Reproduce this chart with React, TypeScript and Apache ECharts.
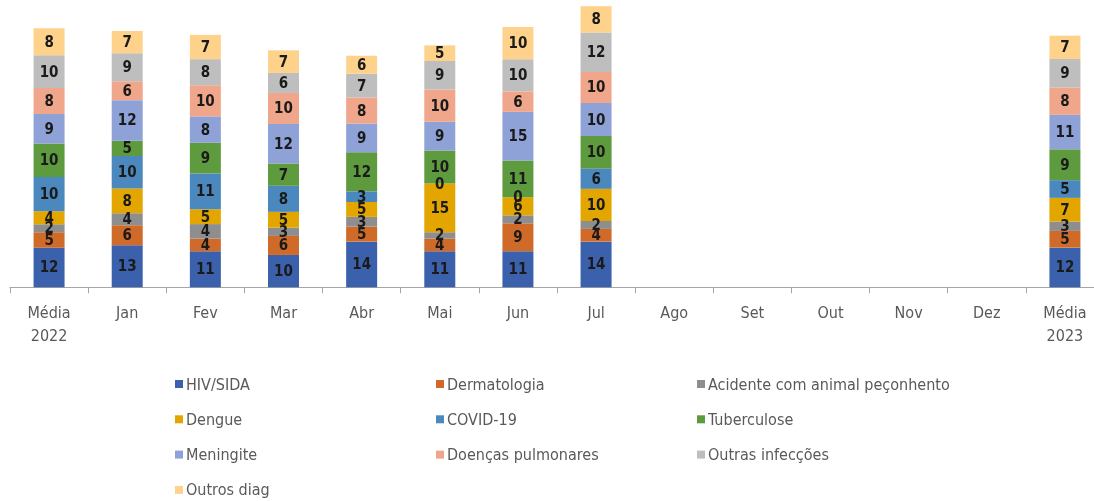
import React, { useEffect, useRef } from "react";
import * as echarts from "echarts";

const categories = ["Média\n2022", "Jan", "Fev", "Mar", "Abr", "Mai", "Jun", "Jul", "Ago", "Set", "Out", "Nov", "Dez", "Média\n2023"];

const seriesNames = [
  "HIV/SIDA",
  "Dermatologia",
  "Acidente com animal peçonhento",
  "Dengue",
  "COVID-19",
  "Tuberculose",
  "Meningite",
  "Doenças pulmonares",
  "Outras infecções",
  "Outros diag",
];

// values; labels show them rounded
const hiv = [12.15, 12.88, 11.04, 9.91, 13.99, 11.04, 11.04, 13.99, null, null, null, null, null, 12.15];
const dermatologia = [4.72, 6.13, 3.87, 5.83, 4.6, 3.87, 8.55, 3.9, null, null, null, null, null, 5.12];
const acidente = [2.45, 3.68, 4.45, 2.55, 2.98, 1.96, 2.45, 2.45, null, null, null, null, null, 2.85];
const dengue = [3.99, 7.55, 4.55, 4.82, 4.55, 14.91, 5.55, 9.82, null, null, null, null, null, 7.27];
const covid = [10.45, 9.94, 10.95, 7.98, 3.28, 0, 0, 6.26, null, null, null, null, null, 5.43];
const tuberculose = [10.25, 4.69, 9.42, 6.84, 11.96, 10.12, 11.26, 9.91, null, null, null, null, null, 9.45];
const meningite = [9.08, 12.45, 8.07, 12.09, 8.8, 8.8, 14.91, 10.12, null, null, null, null, null, 10.55];
const doencas = [7.98, 5.83, 9.55, 9.51, 7.98, 9.91, 6.26, 9.51, null, null, null, null, null, 8.4];
const outrasInfeccoes = [10.03, 8.55, 7.98, 6.13, 7.24, 8.71, 9.82, 12.06, null, null, null, null, null, 8.71];
const outrosDiag = [8.28, 6.84, 7.45, 6.93, 5.55, 4.79, 9.91, 8.1, null, null, null, null, null, 7.15];

const seriesData = [hiv, dermatologia, acidente, dengue, covid, tuberculose, meningite, doencas, outrasInfeccoes, outrosDiag];

const colors = ["#3C61AC", "#D06A28", "#8E8E8E", "#E3A600", "#4A88BD", "#5E9A3E", "#8EA2D7", "#F0A68A", "#BEBEBE", "#FFD28C"];

const FONT = "'Liberation Sans Narrow', 'DejaVu Sans Condensed', sans-serif";

export default function App() {
  const ref = useRef<HTMLDivElement>(null);
  useEffect(() => {
    if (!ref.current) return;
    const chart = echarts.init(ref.current, null, { renderer: "svg" });
    const legendBase = {
      orient: "vertical",
      top: 376,
      height: 130,
      padding: 0,
      itemWidth: 8,
      itemHeight: 8,
      itemGap: 19.3,
      icon: "rect",
      textStyle: { color: "#595959", fontSize: 16, fontFamily: FONT, lineHeight: 16, padding: [0, 0, 0, -2] },
    };
    chart.setOption({
      animation: false,
      color: colors,
      grid: { left: 10, top: 0, width: 1094, bottom: 213.7, containLabel: false, outerBoundsMode: "none" },
      legend: [
        { ...legendBase, left: 175, data: [seriesNames[0], seriesNames[3], seriesNames[6], seriesNames[9]] },
        { ...legendBase, left: 436, data: [seriesNames[1], seriesNames[4], seriesNames[7]] },
        { ...legendBase, left: 697, data: [seriesNames[2], seriesNames[5], seriesNames[8]] },
      ],
      xAxis: {
        type: "category",
        data: categories,
        axisLine: { lineStyle: { color: "#A6A6A6", width: 1 } },
        axisTick: { show: true, length: 6, lineStyle: { color: "#A6A6A6" } },
        axisLabel: { color: "#595959", fontSize: 16, fontFamily: FONT, lineHeight: 23, margin: 14, interval: 0 },
      },
      yAxis: { type: "value", min: 0, max: 88, show: false, splitLine: { show: false } },
      series: seriesNames.map((name, i) => ({
        name,
        type: "bar",
        stack: "total",
        barWidth: 31,
        data: seriesData[i],
        itemStyle: { color: colors[i] },
        label: {
          show: true,
          position: "inside",
          color: "#1A1A1A",
          fontSize: 15,
          fontWeight: "bold",
          fontFamily: FONT,
          formatter: (p: any) => String(Math.round(p.value)),
        },
      })),
    });
    return () => chart.dispose();
  }, []);
  return <div ref={ref} style={{ position: "fixed", left: 0, top: 0, width: 1094, height: 501 }} />;
}
